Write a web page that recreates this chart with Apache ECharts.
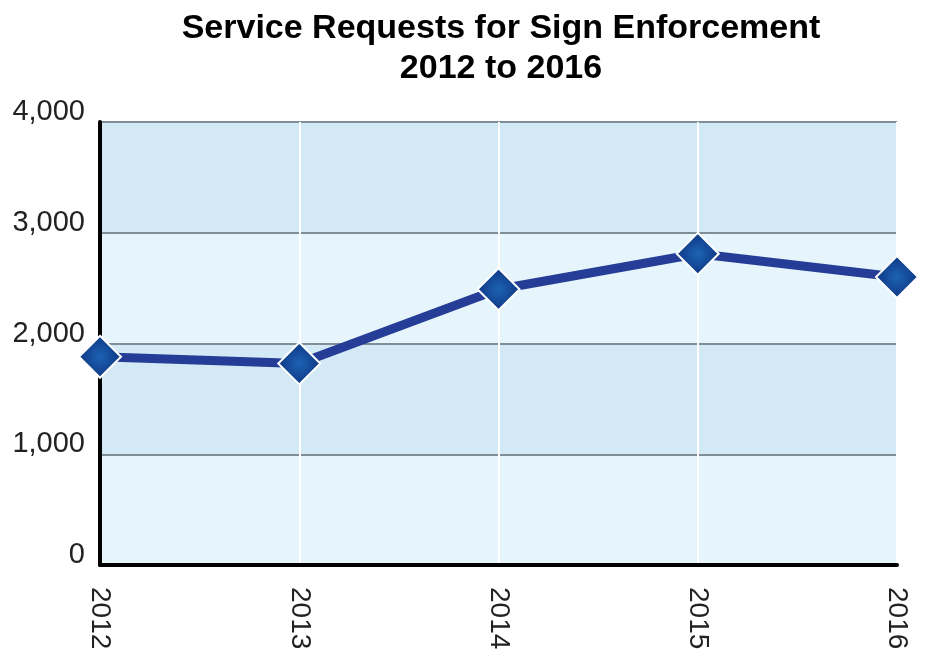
<!DOCTYPE html>
<html>
<head>
<meta charset="utf-8">
<script src="https://cdn.jsdelivr.net/npm/echarts@6/dist/echarts.min.js"></script>
<style>
  html, body { margin: 0; padding: 0; background: #ffffff; }
  #chart { width: 928px; height: 654px; }
</style>
</head>
<body>
<div id="chart"></div>
<script>
// Yearly service requests for sign enforcement
const years = ['2012', '2013', '2014', '2015', '2016'];
const requests = [1880, 1820, 2490, 2810, 2600];
const yTicks = { min: 0, max: 4000, interval: 1000 };

const chart = echarts.init(document.getElementById('chart'), null, { renderer: 'canvas' });

const diamondFill = {
  type: 'radial', x: 0.5, y: 0.5, r: 0.6,
  colorStops: [
    { offset: 0, color: '#1d63b4' },
    { offset: 1, color: '#0a2d78' }
  ]
};

chart.setOption({
  animation: false,
  backgroundColor: '#ffffff',
  title: {
    text: 'Service Requests for Sign Enforcement\n2012 to 2016',
    left: 496,
    top: 4,
    textAlign: 'center',
    textStyle: {
      fontFamily: 'Liberation Sans, Arial, sans-serif',
      fontWeight: 'bold',
      fontSize: 34,
      lineHeight: 40,
      color: '#000000'
    }
  },
  grid: { left: 100, right: 31, top: 122, bottom: 89, containLabel: false },
  xAxis: {
    type: 'category',
    data: years,
    boundaryGap: false,
    axisLine: { show: true, lineStyle: { color: '#000000', width: 4 } },
    axisTick: { show: false },
    axisLabel: {
      rotate: -90,
      margin: 22,
      fontFamily: 'Liberation Sans, Arial, sans-serif',
      fontSize: 28,
      color: '#222222'
    },
    splitLine: { show: true, lineStyle: { color: '#ffffff', width: 2 } }
  },
  yAxis: {
    type: 'value',
    min: yTicks.min,
    max: yTicks.max,
    interval: yTicks.interval,
    axisLine: { show: true, lineStyle: { color: '#000000', width: 4 } },
    axisTick: { show: false },
    axisLabel: {
      margin: 15,
      fontFamily: 'Liberation Sans, Arial, sans-serif',
      fontSize: 29,
      color: '#222222',
      verticalAlign: 'bottom',
      lineHeight: 20,
      formatter: v => v.toLocaleString('en-US')
    },
    splitLine: { show: true, lineStyle: { color: '#7f8d96', width: 2 } },
    splitArea: { show: true, areaStyle: { color: ['#e6f4fb', '#d3eaf6'] } }
  },
  series: [{
    type: 'line',
    data: requests,
    symbol: 'diamond',
    symbolSize: 42,
    lineStyle: { color: '#253d96', width: 9 },
    itemStyle: { color: diamondFill, borderColor: '#ffffff', borderWidth: 2 },
    z: 5
  }]
});
</script>
</body>
</html>
